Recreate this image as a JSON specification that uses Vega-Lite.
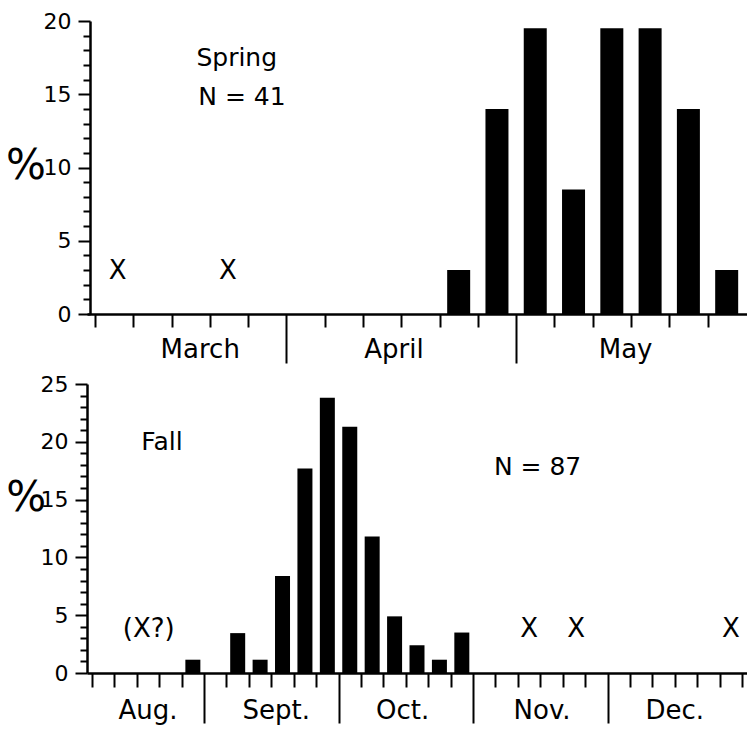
{
  "$schema": "https://vega.github.io/schema/vega-lite/v6.json",
  "background": "white",
  "padding": {"left": 6, "top": 10, "right": 0, "bottom": 0},
  "spacing": 9,
  "config": {
    "view": {"stroke": null},
    "font": "DejaVu Sans",
    "axis": {
      "domainColor": "black",
      "tickColor": "black",
      "labelColor": "black",
      "labelFont": "DejaVu Sans",
      "labelFontSize": 22,
      "grid": false,
      "title": null,
      "domainWidth": 2.5,
      "tickWidth": 2,
      "labelOverlap": false,
      "labelBound": false,
      "labelFlush": false
    },
    "text": {"color": "black", "font": "DejaVu Sans"}
  },
  "datasets": {
    "springBars": [
      {"x": 9.5, "y": 3},
      {"x": 10.5, "y": 14},
      {"x": 11.5, "y": 19.5},
      {"x": 12.5, "y": 8.5},
      {"x": 13.5, "y": 19.5},
      {"x": 14.5, "y": 19.5},
      {"x": 15.5, "y": 14},
      {"x": 16.5, "y": 3}
    ],
    "springX": [
      {"x": 0.59, "y": 2.4, "label": "X"},
      {"x": 3.47, "y": 2.4, "label": "X"}
    ],
    "springNotes": [
      {"x": 2.65, "y": 16.9, "label": "Spring"},
      {"x": 2.7, "y": 14.27, "label": "N = 41"}
    ],
    "springMonths": [
      {"x": 2.75, "y": -3.0, "label": "March"},
      {"x": 7.81, "y": -3.0, "label": "April"},
      {"x": 13.86, "y": -3.0, "label": "May"}
    ],
    "springPct": [{"x": -1.8, "y": 9.2, "label": "%"}],
    "fallBars": [
      {"x": 4.5, "y": 1.15},
      {"x": 6.5, "y": 3.45},
      {"x": 7.5, "y": 1.15},
      {"x": 8.5, "y": 8.4},
      {"x": 9.5, "y": 17.7},
      {"x": 10.5, "y": 23.8},
      {"x": 11.5, "y": 21.3},
      {"x": 12.5, "y": 11.8},
      {"x": 13.5, "y": 4.9},
      {"x": 14.5, "y": 2.4},
      {"x": 15.5, "y": 1.15},
      {"x": 16.5, "y": 3.5}
    ],
    "fallX": [
      {"x": 2.53, "y": 3.1, "label": "(X?)"},
      {"x": 19.5, "y": 3.1, "label": "X"},
      {"x": 21.6, "y": 3.1, "label": "X"},
      {"x": 28.5, "y": 3.1, "label": "X"}
    ],
    "fallNotes": [
      {"x": 2.2, "y": 19.3, "label": "Fall"},
      {"x": 17.93, "y": 17.1, "label": "N = 87"}
    ],
    "fallMonths": [
      {"x": 2.5, "y": -3.98, "label": "Aug."},
      {"x": 8.22, "y": -3.98, "label": "Sept."},
      {"x": 13.86, "y": -3.98, "label": "Oct."},
      {"x": 20.08, "y": -3.98, "label": "Nov."},
      {"x": 26.0, "y": -3.98, "label": "Dec."}
    ],
    "fallPct": [{"x": -2.94, "y": 14.0, "label": "%"}]
  },
  "vconcat": [
    {
      "width": 660,
      "height": 293,
      "encoding": {
        "x": {
          "field": "x", "type": "quantitative",
          "scale": {"domain": [-0.077, 16.9], "nice": false, "zero": false},
          "axis": {
            "values": [0,1,2,3,4,5,6,7,8,9,10,11,12,13,14,15,16],
            "labels": false,
            "tickSize": {"condition": {"test": "datum.value === 5 || datum.value === 11", "value": 49}, "value": 13}
          }
        },
        "y": {
          "field": "y", "type": "quantitative",
          "scale": {"domain": [0, 20], "nice": false},
          "axis": {
            "values": [0,1,2,3,4,5,6,7,8,9,10,11,12,13,14,15,16,17,18,19,20],
            "labelExpr": "datum.value % 5 === 0 ? datum.label : ''",
            "tickSize": {"condition": {"test": "datum.value % 5 === 0", "value": 12}, "value": 7},
            "offset": -3,
            "labelPadding": 7
          }
        }
      },
      "layer": [
        {
          "data": {"name": "springBars"},
          "mark": {"type": "bar", "color": "black", "size": 23}
        },
        {
          "data": {"name": "springX"},
          "mark": {"type": "text", "fontSize": 26, "align": "center", "baseline": "alphabetic"},
          "encoding": {"text": {"field": "label"}}
        },
        {
          "data": {"name": "springNotes"},
          "mark": {"type": "text", "fontSize": 25, "align": "left", "baseline": "alphabetic"},
          "encoding": {"text": {"field": "label"}}
        },
        {
          "data": {"name": "springMonths"},
          "mark": {"type": "text", "fontSize": 26, "align": "center", "baseline": "alphabetic"},
          "encoding": {"text": {"field": "label"}}
        },
        {
          "data": {"name": "springPct"},
          "mark": {"type": "text", "fontSize": 42, "align": "center", "baseline": "alphabetic"},
          "encoding": {"text": {"field": "label"}}
        }
      ]
    },
    {
      "width": 660,
      "height": 289,
      "encoding": {
        "x": {
          "field": "x", "type": "quantitative",
          "scale": {"domain": [0, 29], "nice": false, "zero": false},
          "axis": {
            "values": [0,1,2,3,4,5,6,7,8,9,10,11,12,13,14,15,16,17,18,19,20,21,22,23,24,25,26,27,28,29],
            "labels": false,
            "tickSize": {"condition": {"test": "datum.value === 5 || datum.value === 11 || datum.value === 17 || datum.value === 23", "value": 50}, "value": 14}
          }
        },
        "y": {
          "field": "y", "type": "quantitative",
          "scale": {"domain": [0, 25], "nice": false},
          "axis": {
            "values": [0,1,2,3,4,5,6,7,8,9,10,11,12,13,14,15,16,17,18,19,20,21,22,23,24,25],
            "labelExpr": "datum.value % 5 === 0 ? datum.label : ''",
            "tickSize": {"condition": {"test": "datum.value % 5 === 0", "value": 12}, "value": 7},
            "labelPadding": 7
          }
        }
      },
      "layer": [
        {
          "data": {"name": "fallBars"},
          "mark": {"type": "bar", "color": "black", "size": 15}
        },
        {
          "data": {"name": "fallX"},
          "mark": {"type": "text", "fontSize": 26, "align": "center", "baseline": "alphabetic"},
          "encoding": {"text": {"field": "label"}}
        },
        {
          "data": {"name": "fallNotes"},
          "mark": {"type": "text", "fontSize": 25, "align": "left", "baseline": "alphabetic"},
          "encoding": {"text": {"field": "label"}}
        },
        {
          "data": {"name": "fallMonths"},
          "mark": {"type": "text", "fontSize": 26, "align": "center", "baseline": "alphabetic"},
          "encoding": {"text": {"field": "label"}}
        },
        {
          "data": {"name": "fallPct"},
          "mark": {"type": "text", "fontSize": 42, "align": "center", "baseline": "alphabetic"},
          "encoding": {"text": {"field": "label"}}
        }
      ]
    }
  ]
}
